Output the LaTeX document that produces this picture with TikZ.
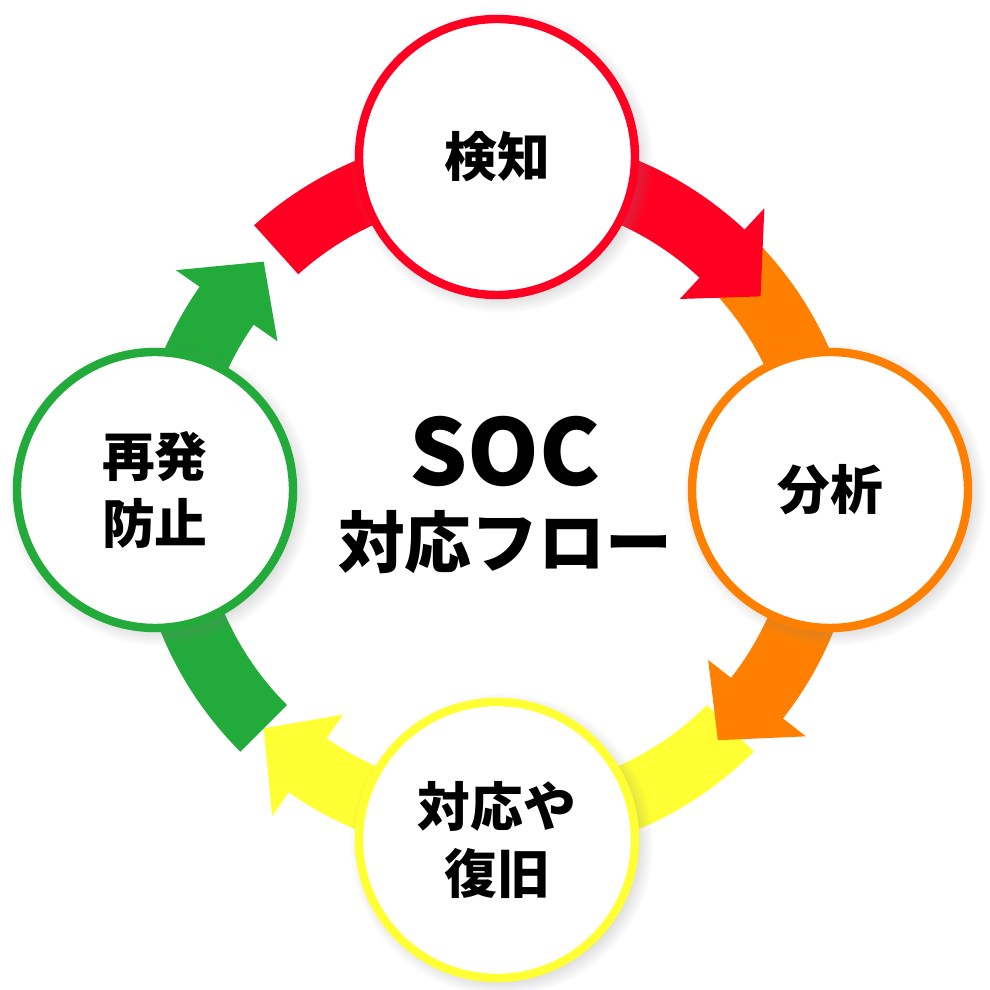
\documentclass[tikz,border=0pt]{standalone}
\usepackage{fontspec}
\setmainfont{Noto Sans CJK JP}
\usetikzlibrary{shadows}
\definecolor{rot}{HTML}{FF0022}
\definecolor{orange2}{HTML}{FF8000}
\definecolor{gelb}{HTML}{FFFF33}
\definecolor{gruen}{HTML}{22AA3A}

\newcommand{\bogen}[3]{%
  \fill[#3, shift={(4.97,4.95)}]
    (#1:2.97) arc[start angle=#1, end angle=#2+10, radius=2.97]
    -- (#2+10:2.68) -- (#2:3.3) -- (#2+10:3.92) -- (#2+10:3.63)
    arc[start angle=#2+10, end angle=#1, radius=3.63] -- cycle;
}

\begin{document}
\begin{tikzpicture}[
    schritt/.style={
      circle,
      fill=white,
      minimum size=2.76cm,
      line width=2.4pt,
      circular drop shadow={shadow xshift=.04cm, shadow yshift=-.04cm, opacity=.35},
      font=\bfseries\fontsize{15}{19}\selectfont,
      align=center,
      draw}
    ]
  \useasboundingbox (0,0) rectangle (9.9,9.9);

  \bogen{-45}{-135}{gelb}
  \bogen{-135}{-225}{gruen}
  \bogen{45}{-48}{orange2}
  \bogen{132}{37}{rot}

  \node at (4.97,8.33) (erkennung) [schritt, draw=rot] {検知};
  \node at (8.30,5.00) (analyse) [schritt, draw=orange2] {分析};
  \node at (4.97,1.50) (reaktion) [schritt, draw=gelb] {対応や\\復旧};
  \node at (1.55,5.00) (vorbeugung) [schritt, draw=gruen] {再発\\防止};

  \node at (5.05,4.95) (titel) [align=center, font=\bfseries] {{\fontsize{26}{32}\selectfont SOC}\\[6pt]{\fontsize{19}{26}\selectfont 対応フロー}};

\end{tikzpicture}
\end{document}
